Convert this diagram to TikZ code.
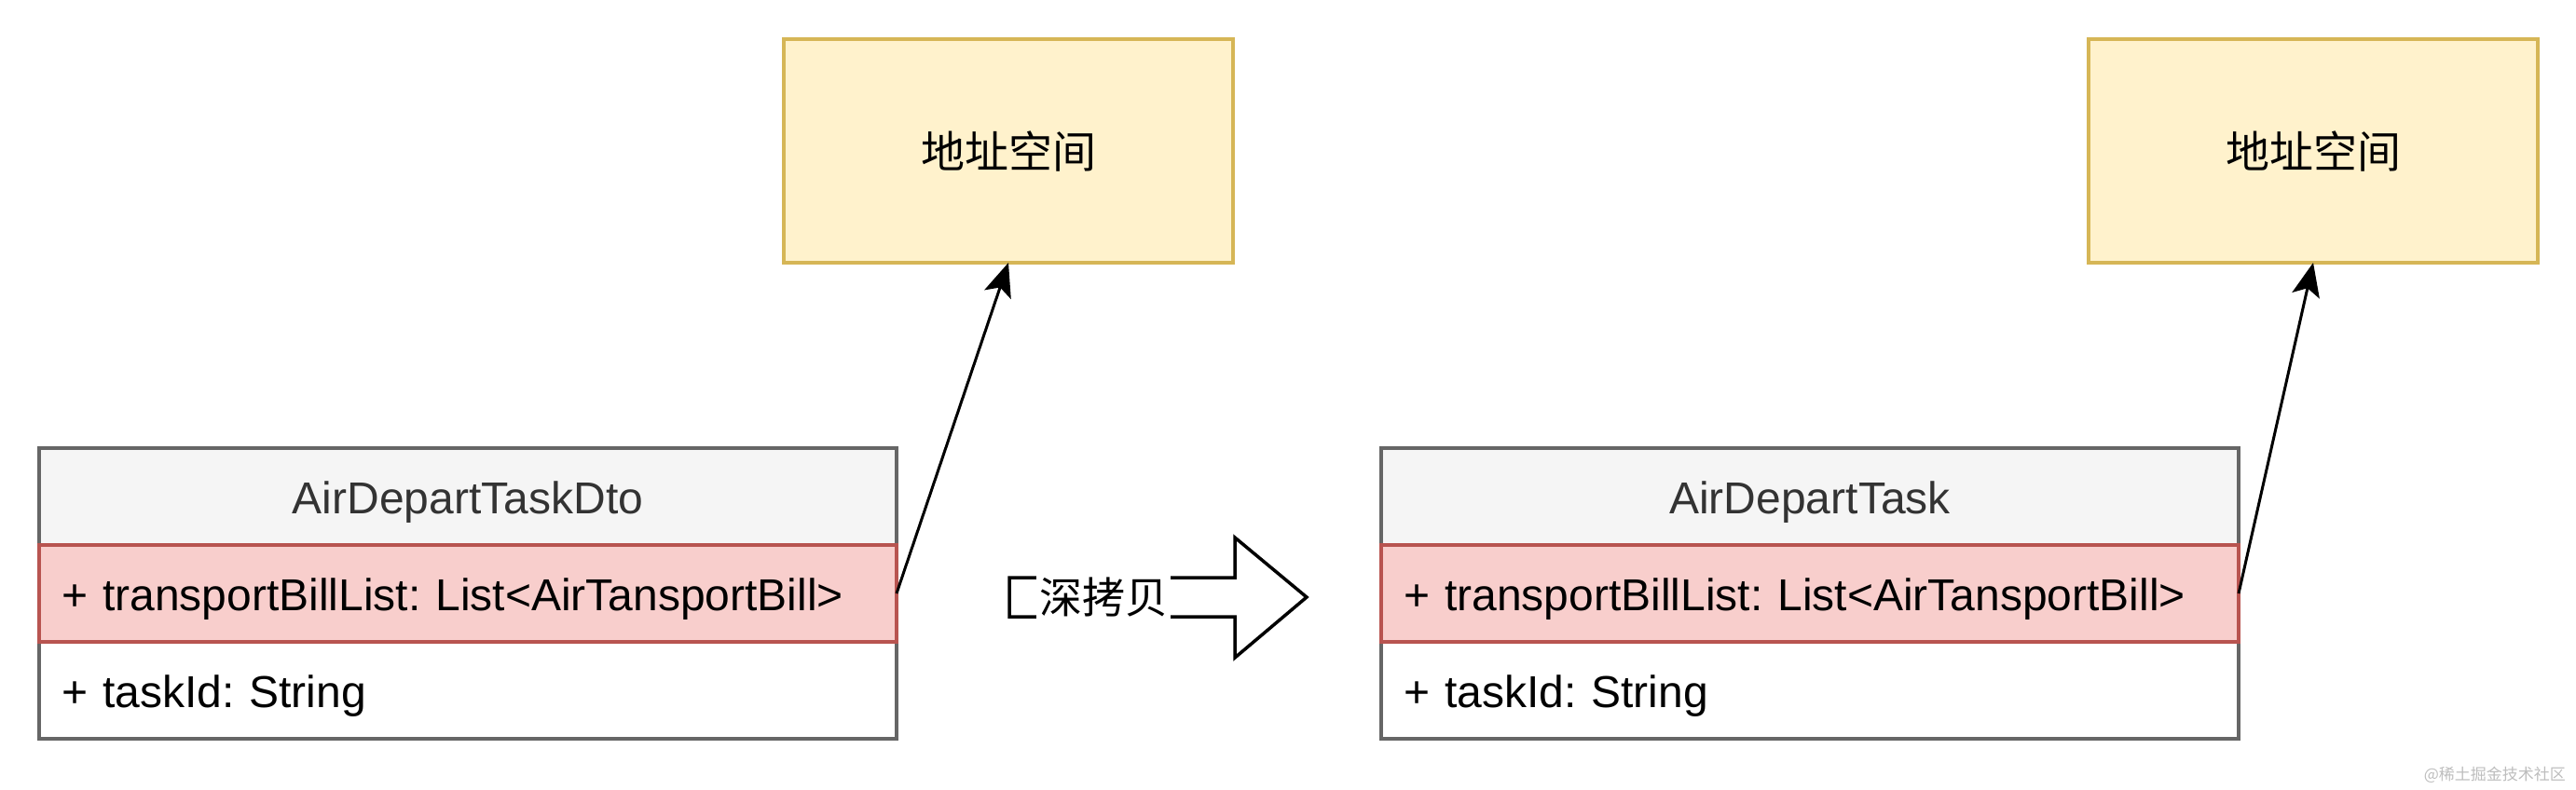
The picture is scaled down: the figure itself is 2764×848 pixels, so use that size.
\documentclass[tikz,border=0pt]{standalone}
\usepackage{fontspec}
\setmainfont{Liberation Sans}
\newfontfamily\cjk{Noto Sans CJK SC}
\usetikzlibrary{arrows.meta,positioning}
\frenchspacing
\definecolor{hdrfill}{HTML}{F5F5F5}
\definecolor{hdrline}{HTML}{666666}
\definecolor{hdrtext}{HTML}{333333}
\definecolor{reffill}{HTML}{F8CECC}
\definecolor{refline}{HTML}{B85450}
\definecolor{memfill}{HTML}{FFF2CC}
\definecolor{memline}{HTML}{D6B656}
\definecolor{markgray}{HTML}{BDBDBD}
\newcommand{\clsfont}{\fontsize{48}{57}\selectfont}
\tikzset{
  clshead/.style={draw=hdrline, fill=hdrfill, line width=3.2pt, outer sep=0pt,
                  minimum width=920pt, minimum height=104pt, inner sep=0pt,
                  text height=37pt, text depth=0pt, text=hdrtext, font=\clsfont},
  clsrow/.style={draw=hdrline, fill=white, line width=3.2pt, outer sep=0pt,
                 text width=872pt, inner xsep=24pt, inner ysep=0pt,
                 text height=37pt, text depth=0pt,
                 minimum height=104pt, align=left, font=\clsfont},
  refrow/.style={clsrow, draw=refline, fill=reffill},
  membox/.style={draw=memline, fill=memfill, line width=3.2pt, outer sep=0pt,
                 minimum width=482pt, minimum height=240pt, inner sep=0pt,
                 font=\cjk\fontsize{47}{56}\selectfont},
  refarr/.style={-{Stealth[length=36pt,width=30pt,inset=8pt]}, line width=3pt, black},
  copyarr/.style={draw=black, fill=white, line width=3.5pt, line join=miter},
  copylbl/.style={fill=white, inner xsep=3pt, inner ysep=0pt, minimum height=54pt,
                  font=\cjk\fontsize{46}{55}\selectfont},
  markfont/.style={text=markgray, inner sep=0pt, font=\cjk\fontsize{17}{20}\selectfont},
}
\begin{document}
\begin{tikzpicture}[x=1pt, y=-1pt]
  \useasboundingbox (0,0) rectangle (2764,848);
  % address spaces
  \node[membox] (memA) at (1082,162) {地址空间};
  \node[membox] (memB) at (2482,162) {地址空间};
  % source class
  \node[clshead] (hdrA) at (502,533) {AirDepartTaskDto};
  \node[clsrow, below=0pt of hdrA, yshift=-104pt] (idA) {+ taskId: String};
  \node[refrow, below=0pt of hdrA] (rowA) {+ transportBillList: List<AirTansportBill>};
  % copied class
  \node[clshead] (hdrB) at (1942,533) {AirDepartTask};
  \node[clsrow, below=0pt of hdrB, yshift=-104pt] (idB) {+ taskId: String};
  \node[refrow, below=0pt of hdrB] (rowB) {+ transportBillList: List<AirTansportBill>};
  % references
  \draw[refarr] (rowA.east) -- (memA.south);
  \draw[refarr] (rowB.east) -- (memB.south);
  % deep copy arrow
  \coordinate (cp) at (1083,641);
  \draw[copyarr] (cp) ++(0,-21) -- ++(242,0) -- ++(0,-43) -- ++(77,64)
    -- ++(-77,65) -- ++(0,-44) -- ++(-242,0) -- cycle;
  \node[copylbl] (cplbl) at (1184,641) {深拷贝};
  \node[markfont, anchor=east] (mark) at (2753,832) {@稀土掘金技术社区};
\end{tikzpicture}
\end{document}
